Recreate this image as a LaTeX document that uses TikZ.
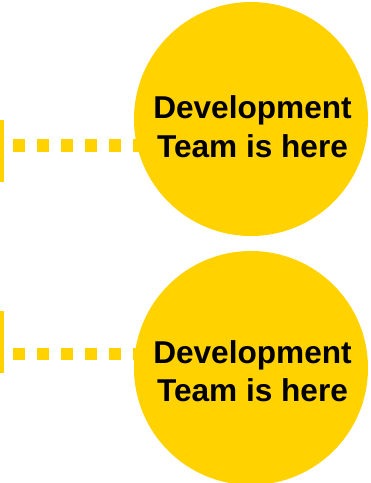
\documentclass[tikz,border=0pt]{standalone}
\usepackage{fontspec}
\setmainfont{Liberation Sans}
\definecolor{gold}{RGB}{255,210,0}
\begin{document}
\begin{tikzpicture}[x=1pt,y=-1pt,
  bubble/.style={circle,fill=gold,minimum size=234pt,inner sep=0pt},
  label/.style={font=\bfseries\fontsize{31.6}{38.5}\selectfont,align=center,text=black},
  barmark/.style={fill=gold,inner sep=0pt,minimum width=4pt,minimum height=62pt},
  dotline/.style={draw=gold,line width=12.5pt,dash pattern=on 12pt off 12pt}]
\useasboundingbox (0,0) rectangle (371,483);
% bars
\node[barmark] (b1) at (2,150.5) {};
\node[barmark] (b2) at (2,341.5) {};
% dash start points
\coordinate (d1) at (13,145.5);
\coordinate (d2) at (13,354);
% circles (positions only)
\path (251,119) coordinate (c1pos);
\path (251,368) coordinate (c2pos);
\draw[dotline] (d1) -- (d1 -| c1pos);
\draw[dotline] (d2) -- (d2 -| c2pos);
\node[bubble] (c1) at (c1pos) {};
\node[bubble] (c2) at (c2pos) {};
\node[label] (t1) at (252.5,126.5) {Development\\Team is here};
\node[label] (t2) at (252.5,371) {Development\\Team is here};
\end{tikzpicture}
\end{document}
